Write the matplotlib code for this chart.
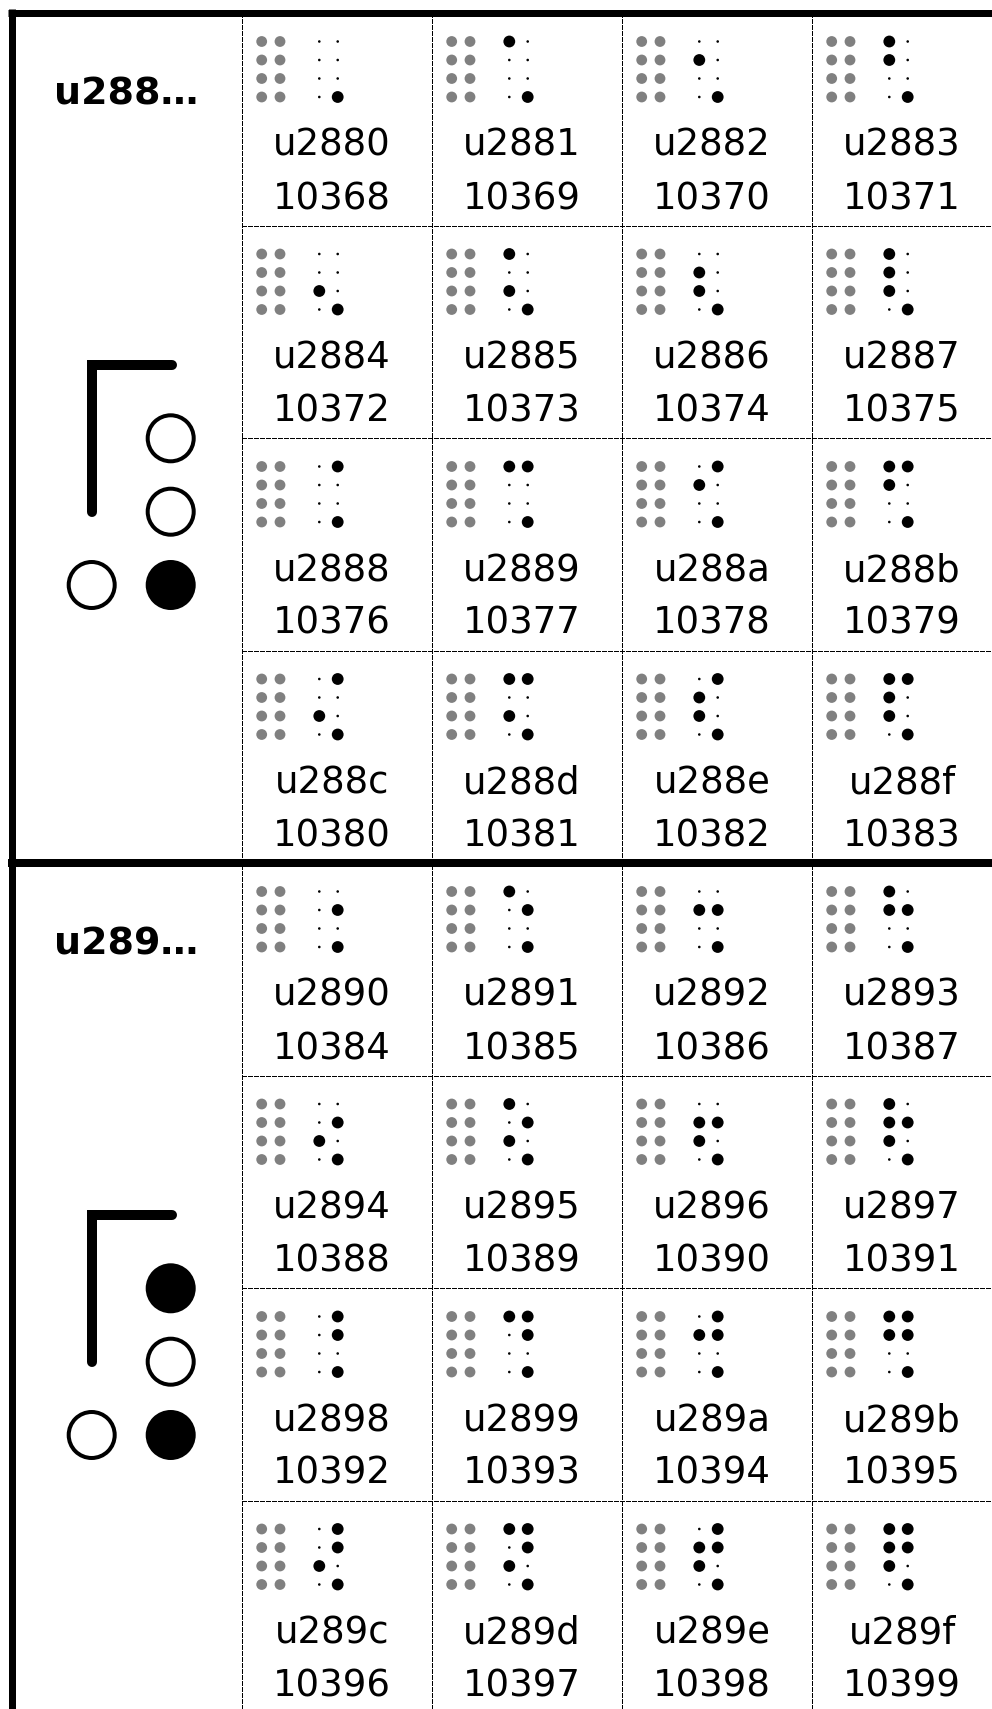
import matplotlib
matplotlib.use("Agg")
import matplotlib.pyplot as plt
from matplotlib.patches import Circle
from matplotlib.lines import Line2D

# ---------------- data ----------------
group_titles = ["u288\u2026", "u289\u2026"]
# high-nibble dots shown in the left symbol (dots 5, 6, 7, 8) that are raised
group_filled = [[8], [5, 8]]

hex_labels = [
    "u2880", "u2881", "u2882", "u2883", "u2884", "u2885", "u2886", "u2887",
    "u2888", "u2889", "u288a", "u288b", "u288c", "u288d", "u288e", "u288f",
    "u2890", "u2891", "u2892", "u2893", "u2894", "u2895", "u2896", "u2897",
    "u2898", "u2899", "u289a", "u289b", "u289c", "u289d", "u289e", "u289f",
]
dec_labels = [
    "10368", "10369", "10370", "10371", "10372", "10373", "10374", "10375",
    "10376", "10377", "10378", "10379", "10380", "10381", "10382", "10383",
    "10384", "10385", "10386", "10387", "10388", "10389", "10390", "10391",
    "10392", "10393", "10394", "10395", "10396", "10397", "10398", "10399",
]
raised_dots = [
    [8], [1, 8], [2, 8], [1, 2, 8], [3, 8], [1, 3, 8], [2, 3, 8], [1, 2, 3, 8],
    [4, 8], [1, 4, 8], [2, 4, 8], [1, 2, 4, 8], [3, 4, 8], [1, 3, 4, 8], [2, 3, 4, 8], [1, 2, 3, 4, 8],
    [5, 8], [1, 5, 8], [2, 5, 8], [1, 2, 5, 8], [3, 5, 8], [1, 3, 5, 8], [2, 3, 5, 8], [1, 2, 3, 5, 8],
    [4, 5, 8], [1, 4, 5, 8], [2, 4, 5, 8], [1, 2, 4, 5, 8], [3, 4, 5, 8], [1, 3, 4, 5, 8], [2, 3, 4, 5, 8], [1, 2, 3, 4, 5, 8],
]

# ---------------- layout ----------------
W, H = 992, 1709
fig = plt.figure(figsize=(W / 100, H / 100), dpi=100)
ax = fig.add_axes([0, 0, 1, 1])
ax.set_xlim(0, W)
ax.set_ylim(H, 0)
ax.axis("off")
plt.rcParams["lines.scale_dashes"] = False

PX = 72 / 100  # points per pixel
TOP = 12.5
LEFT_COL = 242
COL_W = 190
ROW_H = 212.5
GROUP_H = 4 * ROW_H
NCOLS = 4

# dot positions (col, row) in 8-dot braille cell
dot_pos = {1: (0, 0), 2: (0, 1), 3: (0, 2), 7: (0, 3),
           4: (1, 0), 5: (1, 1), 6: (1, 2), 8: (1, 3)}

dash = (4.5 * PX, 2 * PX)

def dashed(xs, ys):
    ln = Line2D(xs, ys, color="black", lw=1.0 * PX, dashes=dash,
                dash_capstyle="butt", antialiased=False)
    ax.add_line(ln)

# vertical dashed column lines
for c in range(NCOLS + 1):
    x = LEFT_COL - 0.5 + c * COL_W
    dashed([x, x], [TOP, H])

# horizontal dashed row lines
for g in range(2):
    for r in range(1, 4):
        y = TOP + g * GROUP_H + r * ROW_H + 0.5
        dashed([LEFT_COL, W], [y, y])

# thick borders
ax.add_line(Line2D([8, W], [TOP, TOP], color="black", lw=7 * PX, solid_capstyle="butt"))
ax.add_line(Line2D([11.5, 11.5], [9, H], color="black", lw=7 * PX, solid_capstyle="butt"))
for g in range(1, 3):
    y = TOP + g * GROUP_H + 0.5
    ax.add_line(Line2D([8, W], [y, y], color="black", lw=8 * PX, solid_capstyle="butt"))

# cells
gx = [19.7, 38.0]
bx = [77.3, 95.7]
dy = [29.0, 47.5, 66.0, 84.5]
for g in range(2):
    for r in range(4):
        for c in range(NCOLS):
            i = g * 16 + r * 4 + c
            x0 = LEFT_COL + c * COL_W
            y0 = TOP + g * GROUP_H + r * ROW_H
            for col in range(2):
                for row in range(4):
                    ax.add_patch(Circle((x0 + gx[col], y0 + dy[row]), 5.4,
                                        facecolor="#808080", edgecolor="none"))
            for d, (col, row) in dot_pos.items():
                if d in raised_dots[i]:
                    rad = 5.9
                else:
                    rad = 1.3
                ax.add_patch(Circle((x0 + bx[col], y0 + dy[row]), rad,
                                    facecolor="black", edgecolor="none"))
            ax.text(x0 + 90, y0 + 133, hex_labels[i], fontsize=37 * PX,
                    ha="center", va="center", color="black", family="DejaVu Sans")
            ax.text(x0 + 90, y0 + 186, dec_labels[i], fontsize=37 * PX,
                    ha="center", va="center", color="black", family="DejaVu Sans")

# left group column
sym_pos = {5: (170.7, 425.8), 6: (170.7, 499.2), 8: (170.7, 572.5), 7: (91.7, 572.5)}
for g in range(2):
    y0 = TOP + g * GROUP_H
    ax.text(126.5, y0 + 82, group_titles[g], fontsize=38 * PX, fontweight="bold",
            ha="center", va="center", color="black", family="DejaVu Sans")
    ax.add_line(Line2D([91.7, 91.7, 171.7], [y0 + 499, y0 + 352.5, y0 + 352.5],
                       color="black", lw=10 * PX, solid_capstyle="round",
                       solid_joinstyle="miter"))
    for d, (sx, sy) in sym_pos.items():
        if d in group_filled[g]:
            ax.add_patch(Circle((sx, y0 + sy), 25, facecolor="black", edgecolor="none"))
        else:
            ax.add_patch(Circle((sx, y0 + sy), 23, facecolor="none",
                                edgecolor="black", lw=4 * PX))

fig.savefig("out.png", dpi=100, facecolor="white")
